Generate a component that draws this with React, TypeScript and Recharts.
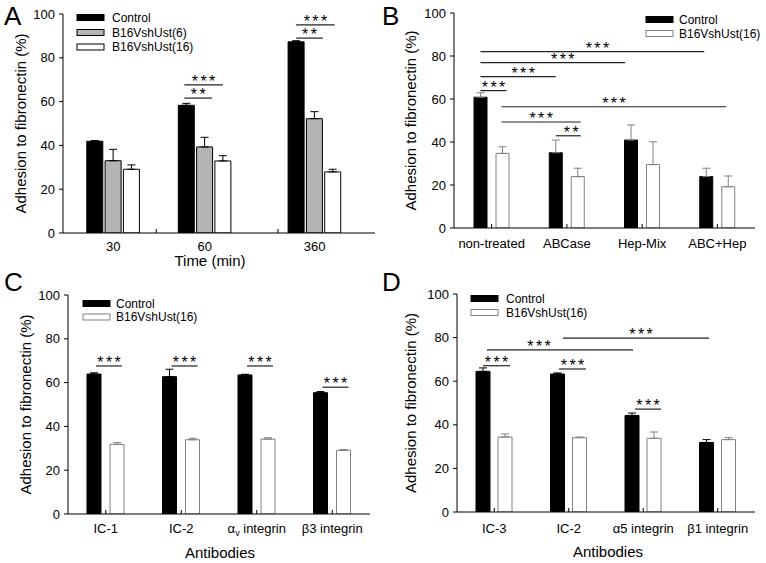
import React from 'react';
import { BarChart, Bar, XAxis, YAxis, ErrorBar, Cell, Customized } from 'recharts';

const FONT = '"Liberation Sans", Arial, Helvetica, sans-serif';

// ---------- Panel A data ----------
const timeLabels = ['30', '60', '360'];
const aControl = [41.9, 58.3, 87.3];
const aControlErr = [0.3, 0.9, 0.5];
const aUst6 = [33.0, 39.3, 52.2];
const aUst6Err = [5.2, 4.4, 3.2];
const aUst16 = [29.1, 32.9, 27.9];
const aUst16Err = [2.0, 2.4, 1.2];
const aSeriesNames = ['Control', 'B16VshUst(6)', 'B16VshUst(16)'];

// ---------- Panel B data ----------
const bLabels = ['non-treated', 'ABCase', 'Hep-Mix', 'ABC+Hep'];
const bControl = [60.8, 35.0, 40.9, 23.9];
const bControlErr = [2.1, 5.9, 7.0, 3.9];
const bUst16 = [34.7, 23.9, 29.5, 19.2];
const bUst16Err = [3.1, 3.9, 10.6, 5.0];

// ---------- Panel C data ----------
const cLabels = ['IC-1', 'IC-2', 'αv integrin', 'β3 integrin'];
const cControl = [63.9, 62.7, 63.5, 55.4];
const cControlErr = [0.6, 3.4, 0.3, 0.5];
const cUst16 = [31.8, 33.9, 34.2, 29.1];
const cUst16Err = [0.8, 0.7, 0.6, 0.3];

// ---------- Panel D data ----------
const dLabels = ['IC-3', 'IC-2', 'α5 integrin', 'β1 integrin'];
const dControl = [64.5, 63.3, 44.3, 31.9];
const dControlErr = [1.6, 0.5, 1.1, 1.3];
const dUst16 = [34.4, 34.1, 33.8, 33.2];
const dUst16Err = [1.4, 0.3, 2.9, 0.9];

const twoSeriesNames = ['Control', 'B16VshUst(16)'];
const yTicks = [0, 20, 40, 60, 80, 100];
const yTitle = 'Adhesion to fibronectin (%)';

// significance annotations: [category, bar, dx] -> [category, bar, dx] at value y
type End = [number, number, number];
type Ann = { a: End; b: End; y: number; stars: string; sdx?: number };
const aSig: Ann[] = [
  { a: [1, 0, -2], b: [1, 2, 0], y: 67.6, stars: '***' },
  { a: [1, 0, -2], b: [1, 1, 7.5], y: 61.6, stars: '**' },
  { a: [2, 0, 0], b: [2, 2, 2], y: 95.0, stars: '***' },
  { a: [2, 0, 0], b: [2, 1, 8.5], y: 89.0, stars: '**' },
];
const bSig: Ann[] = [
  { a: [0, 0, 0], b: [3, 0, -2], y: 82.0, stars: '***', sdx: 5 },
  { a: [0, 0, 0], b: [2, 0, -6], y: 76.9, stars: '***', sdx: 10 },
  { a: [0, 0, 0], b: [1, 0, 0], y: 70.4, stars: '***', sdx: 5 },
  { a: [0, 0, 0], b: [0, 1, 4], y: 63.9, stars: '***' },
  { a: [0, 1, -1], b: [3, 1, -2], y: 56.4, stars: '***' },
  { a: [0, 1, -1], b: [1, 1, 3], y: 49.3, stars: '***' },
  { a: [1, 0, 0], b: [1, 1, 3], y: 42.9, stars: '**', sdx: 3 },
];
const cSig: Ann[] = [
  { a: [0, 0, 2], b: [0, 1, 5], y: 67.6, stars: '***' },
  { a: [1, 0, 2], b: [1, 1, 5], y: 67.6, stars: '***' },
  { a: [2, 0, 2], b: [2, 1, 5], y: 67.6, stars: '***' },
  { a: [3, 0, 2], b: [3, 1, 5], y: 57.9, stars: '***' },
];
const dSig: Ann[] = [
  { a: [0, 0, 0], b: [0, 1, 5], y: 67.1, stars: '***' },
  { a: [1, 0, 1.5], b: [1, 1, 6.5], y: 65.6, stars: '***' },
  { a: [2, 0, 3], b: [2, 1, 7], y: 47.2, stars: '***' },
  { a: [0, 0, 4], b: [2, 0, 1], y: 74.4, stars: '***', sdx: -21 },
  { a: [1, 0, 5.5], b: [3, 0, 2.5], y: 79.8, stars: '***', sdx: 5 },
];

// Panel A slot layout (uneven group spacing of the original)
const A_SLOTS = 16;
const A_MID_SLOTS = [2, 7, 13];
const A_PAD = { left: 4.5, right: 14.7 };
const A_SEP_SLOTS = [4.85, 11.5];

type Geo = { left: number; top: number; width: number; height: number; plotL: number; plotR: number; plotT: number; plotB: number };
const geoA: Geo = { left: 0, top: 0, width: 383, height: 280, plotL: 63, plotR: 375, plotT: 14, plotB: 233 };
const geoB: Geo = { left: 383, top: 0, width: 383, height: 280, plotL: 71, plotR: 372, plotT: 13, plotB: 228 };
const geoC: Geo = { left: 0, top: 280, width: 383, height: 283, plotL: 68, plotR: 370, plotT: 15, plotB: 234 };
const geoD: Geo = { left: 383, top: 280, width: 383, height: 283, plotL: 74, plotR: 372, plotT: 14, plotB: 232 };

function renderLabel(s: string) {
  if (s.startsWith('αv')) {
    return (
      <>
        α<tspan dy={3} fontSize={9}>v</tspan>
        <tspan dy={-3}>{s.slice(2)}</tspan>
      </>
    );
  }
  return s;
}

const XTick = (props: any) => {
  const { x, y, payload, labelOf, ly, mark } = props;
  const label = labelOf ? labelOf(payload.value) : String(payload.value);
  return (
    <g>
      {mark && <line x1={x} y1={y} x2={x} y2={y - 4} stroke="#000" strokeWidth={1} />}
      {label ? (
        <text x={x} y={y + ly} textAnchor="middle" fontSize={13} fontFamily={FONT} fill="#000">
          {renderLabel(label)}
        </text>
      ) : null}
    </g>
  );
};

type LegendItem = { name: string; fill: string; stroke: string };

const Overlay = (props: any) => {
  const { geo, centerX, anns, legend, legendX, legendRows, legendTextX, yLabelX, xTitle, xTitleX, xTitleY, seps } = props;
  const g: Geo = geo;
  const yPx = (v: number) => g.plotT + (g.plotB - g.plotT) * (1 - v / 100);
  return (
    <g fontFamily={FONT}>
      <text
        transform={`translate(${yLabelX},${(g.plotT + g.plotB) / 2}) rotate(-90)`}
        textAnchor="middle"
        dominantBaseline="central"
        fontSize={15}
        fill="#000"
      >
        {yTitle}
      </text>
      {xTitle ? (
        <text x={xTitleX} y={xTitleY} textAnchor="middle" fontSize={15} fill="#000">
          {xTitle}
        </text>
      ) : null}
      {(seps || []).map((sx: number, i: number) => (
        <line key={'sep' + i} x1={sx} x2={sx} y1={g.plotB} y2={g.plotB - 4} stroke="#000" />
      ))}
      {(legend as LegendItem[]).map((it, i) => (
        <g key={'lg' + i}>
          <rect x={legendX} y={legendRows[i] - 3} width={27} height={6} fill={it.fill} stroke={it.stroke} strokeWidth={1} />
          <text x={legendTextX} y={legendRows[i]} dominantBaseline="central" fontSize={12} fill="#000">
            {it.name}
          </text>
        </g>
      ))}
      {(anns as Ann[]).map((an, i) => {
        const x1 = centerX(an.a[0], an.a[1]) + an.a[2];
        const x2 = centerX(an.b[0], an.b[1]) + an.b[2];
        const y = yPx(an.y);
        return (
          <g key={'an' + i}>
            <line x1={x1} x2={x2} y1={y} y2={y} stroke="#222" strokeWidth={1.2} />
            <text x={(x1 + x2) / 2 + (an.sdx || 0) + 1.2} y={y + 2} textAnchor="middle" fontSize={16} letterSpacing={2.4} fill="#000">
              {an.stars}
            </text>
          </g>
        );
      })}
    </g>
  );
};

const yAxisProps = {
  domain: [0, 100] as [number, number],
  ticks: yTicks,
  interval: 0 as const,
  tickSize: 4,
  tickMargin: 4,
  allowDataOverflow: true,
  axisLine: { stroke: '#000' },
  tickLine: { stroke: '#000' },
  tick: { fontSize: 13, fill: '#000', fontFamily: FONT },
};

// ---------- Panel A ----------
type ARow = { slot: number; label: string; value: number | null; err?: [number, number]; series: number };
const aSeriesVals = [aControl, aUst6, aUst16];
const aSeriesErrs = [aControlErr, aUst6Err, aUst16Err];
const aTable: ARow[] = Array.from({ length: A_SLOTS }, (_, s) => ({ slot: s, label: '', value: null, series: -1 }));
timeLabels.forEach((lab, gi) => {
  for (let k = 0; k < 3; k++) {
    const s = A_MID_SLOTS[gi] - 1 + k;
    aTable[s] = { slot: s, label: k === 1 ? lab : '', value: aSeriesVals[k][gi], err: [0, aSeriesErrs[k][gi]], series: k };
  }
});
const aFills = ['#000000', '#b4b4b4', '#ffffff'];

function PanelA() {
  const g = geoA;
  const bw = (g.plotR - g.plotL - A_PAD.left - A_PAD.right) / A_SLOTS;
  const barSize = 16;
  const off = ((bw - barSize) / 2) >> 0;
  const centerX = (cat: number, bar: number) => g.plotL + A_PAD.left + (A_MID_SLOTS[cat] - 1 + bar) * bw + off + barSize / 2;
  const seps = A_SEP_SLOTS.map((s) => g.plotL + A_PAD.left + s * bw);
  return (
    <BarChart
      width={g.width}
      height={g.height}
      data={aTable}
      margin={{ top: g.plotT, right: g.width - g.plotR, left: 0, bottom: 0 }}
    >
      <XAxis
        dataKey="slot"
        type="category"
        height={g.height - g.plotB}
        padding={A_PAD}
        interval={0}
        axisLine={{ stroke: '#000' }}
        tickLine={false}
        tickSize={0}
        tickMargin={0}
        tick={<XTick ly={17.5} mark={false} labelOf={(v: number) => aTable[v].label} />}
      />
      <YAxis width={g.plotL} {...yAxisProps} />
      <Bar dataKey="value" barSize={barSize} isAnimationActive={false}>
        {aTable.map((r, i) => (
          <Cell key={i} fill={aFills[Math.max(r.series, 0)]} stroke="#000" strokeWidth={1} />
        ))}
        <ErrorBar dataKey="err" width={4} stroke="#000" strokeWidth={1} direction="y" />
      </Bar>
      <Customized
        component={
          <Overlay
            geo={g}
            centerX={centerX}
            anns={aSig}
            seps={seps}
            legend={[
              { name: aSeriesNames[0], fill: '#000', stroke: '#000' },
              { name: aSeriesNames[1], fill: '#b4b4b4', stroke: '#000' },
              { name: aSeriesNames[2], fill: '#fff', stroke: '#000' },
            ]}
            legendX={77}
            legendRows={[17.5, 32.5, 47]}
            legendTextX={112}
            yLabelX={20}
            xTitle="Time (min)"
            xTitleX={210}
            xTitleY={265.5}
          />
        }
      />
    </BarChart>
  );
}

// ---------- Grouped panels (B, C, D) ----------
function makeRows(labels: string[], ctl: number[], ctlErr: number[], u: number[], uErr: number[]) {
  return labels.map((name, i) => ({
    name,
    control: ctl[i],
    controlErr: [0, ctlErr[i]] as [number, number],
    ust16: u[i],
    ust16Err: [0, uErr[i]] as [number, number],
  }));
}
const bRows = makeRows(bLabels, bControl, bControlErr, bUst16, bUst16Err);
const cRows = makeRows(cLabels, cControl, cControlErr, cUst16, cUst16Err);
const dRows = makeRows(dLabels, dControl, dControlErr, dUst16, dUst16Err);

function GroupedPanel(props: any) {
  const { geo, rows, barSize, barGap, anns, ctlErrColor, legendX, legendRows, legendTextX, yLabelX, xTitle, xTitleX, xTitleY, ly } = props;
  const g: Geo = geo;
  const n = rows.length;
  const bw = (g.plotR - g.plotL) / n;
  const sum = barSize * 2 + barGap;
  const off = ((bw - sum) / 2) >> 0;
  const centerX = (cat: number, bar: number) => g.plotL + cat * bw + off + bar * (barSize + barGap) + barSize / 2;
  return (
    <BarChart
      width={g.width}
      height={g.height}
      data={rows}
      barGap={barGap}
      margin={{ top: g.plotT, right: g.width - g.plotR, left: 0, bottom: 0 }}
    >
      <XAxis
        dataKey="name"
        height={g.height - g.plotB}
        interval={0}
        axisLine={{ stroke: '#000' }}
        tickLine={false}
        tickSize={0}
        tickMargin={0}
        tick={<XTick ly={ly} mark />}
      />
      <YAxis width={g.plotL} {...yAxisProps} />
      <Bar dataKey="control" barSize={barSize} fill="#000" stroke="#000" strokeWidth={1} isAnimationActive={false}>
        <ErrorBar dataKey="controlErr" width={4} stroke={ctlErrColor} strokeWidth={1} direction="y" />
      </Bar>
      <Bar dataKey="ust16" barSize={barSize} fill="#fff" stroke="#808080" strokeWidth={1} isAnimationActive={false}>
        <ErrorBar dataKey="ust16Err" width={4} stroke="#808080" strokeWidth={1} direction="y" />
      </Bar>
      <Customized
        component={
          <Overlay
            geo={g}
            centerX={centerX}
            anns={anns}
            legend={[
              { name: twoSeriesNames[0], fill: '#000', stroke: '#000' },
              { name: twoSeriesNames[1], fill: '#fff', stroke: '#808080' },
            ]}
            legendX={legendX}
            legendRows={legendRows}
            legendTextX={legendTextX}
            yLabelX={yLabelX}
            xTitle={xTitle}
            xTitleX={xTitleX}
            xTitleY={xTitleY}
          />
        }
      />
    </BarChart>
  );
}

const place = (g: Geo): React.CSSProperties => ({ position: 'absolute', left: g.left, top: g.top, width: g.width, height: g.height });

export default function App() {
  return (
    <div style={{ position: 'absolute', left: 0, top: 0, width: 766, height: 563, background: '#fff', overflow: 'hidden' }}>
      <div style={place(geoA)}>
        <PanelA />
      </div>
      <div style={place(geoB)}>
        <GroupedPanel
          geo={geoB}
          rows={bRows}
          barSize={13}
          barGap={9}
          anns={bSig}
          ctlErrColor="#808080"
          legendX={263}
          legendRows={[19.5, 33.5]}
          legendTextX={296}
          yLabelX={27}
          ly={20}
        />
      </div>
      <div style={place(geoC)}>
        <GroupedPanel
          geo={geoC}
          rows={cRows}
          barSize={14}
          barGap={9}
          anns={cSig}
          ctlErrColor="#000"
          legendX={83}
          legendRows={[23.5, 37]}
          legendTextX={116}
          yLabelX={25}
          xTitle="Antibodies"
          xTitleX={220}
          xTitleY={278}
          ly={19}
        />
      </div>
      <div style={place(geoD)}>
        <GroupedPanel
          geo={geoD}
          rows={dRows}
          barSize={14}
          barGap={8}
          anns={dSig}
          ctlErrColor="#000"
          legendX={88}
          legendRows={[18.5, 32.5]}
          legendTextX={123}
          yLabelX={27}
          xTitle="Antibodies"
          xTitleX={225}
          xTitleY={277}
          ly={21}
        />
      </div>
      <svg width={766} height={563} style={{ position: 'absolute', left: 0, top: 0, pointerEvents: 'none' }}>
        <g fontFamily={FONT} fontSize={26} fill="#000">
          <text x={4} y={25}>A</text>
          <text x={382} y={25}>B</text>
          <text x={4} y={291}>C</text>
          <text x={382} y={291}>D</text>
        </g>
      </svg>
    </div>
  );
}
